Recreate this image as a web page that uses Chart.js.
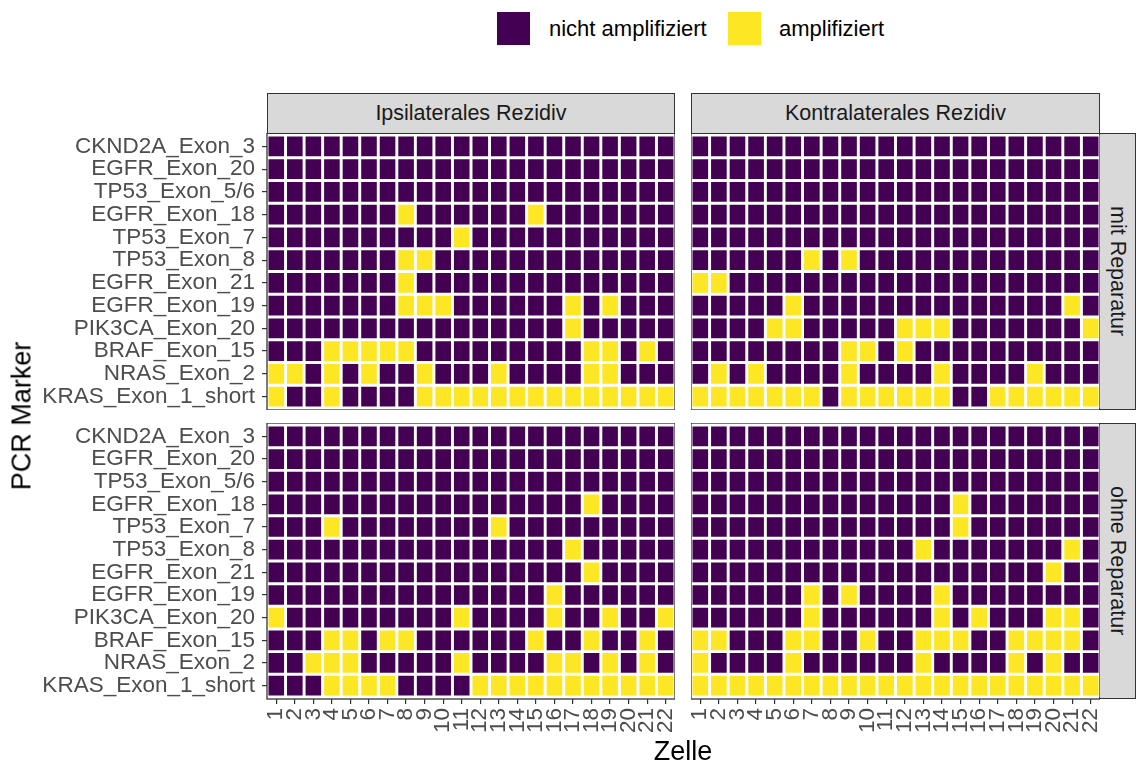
<!DOCTYPE html>
<html>
<head>
<meta charset="utf-8">
<script src="https://cdn.jsdelivr.net/npm/chart.js@4.4.1/dist/chart.umd.min.js"></script>
<style>
  body { margin: 0; width: 1137px; height: 767px; background: #fff; position: relative; overflow: hidden;
         font-family: "Liberation Sans", Arial, sans-serif; }
  .box { position: absolute; }
  .strip { position: absolute; background: #d9d9d9; border: 1.3px solid #333; box-sizing: border-box;
           color: #1a1a1a; font-size: 21.5px; display: flex; align-items: center; justify-content: center; }
  .vert { writing-mode: vertical-rl; }
  .key { position: absolute; width: 33px; height: 33px; }
  .ltext { position: absolute; font-size: 22px; color: #000; line-height: 33px; white-space: nowrap; }
  .title { position: absolute; font-size: 27px; color: #000; white-space: nowrap; }
</style>
</head>
<body>

<div class="key" style="left:497px;top:12px;background:#440154"></div>
<div class="ltext" style="left:549px;top:12px">nicht amplifiziert</div>
<div class="key" style="left:728px;top:12px;background:#fde725"></div>
<div class="ltext" style="left:779px;top:12px">amplifiziert</div>

<div class="strip" style="left:267px;top:93px;width:408px;height:41px">Ipsilaterales Rezidiv</div>
<div class="strip" style="left:691px;top:93px;width:409px;height:41px">Kontralaterales Rezidiv</div>
<div class="strip vert" style="left:1099px;top:133px;width:37px;height:277px">mit Reparatur</div>
<div class="strip vert" style="left:1099px;top:423px;width:37px;height:276px">ohne Reparatur</div>

<div class="box" style="left:0;top:133px;width:675px;height:277px"><canvas id="tl"></canvas></div>
<div class="box" style="left:691px;top:133px;width:409px;height:277px"><canvas id="tr"></canvas></div>
<div class="box" style="left:0;top:423px;width:675px;height:338px"><canvas id="bl"></canvas></div>
<div class="box" style="left:691px;top:423px;width:409px;height:338px"><canvas id="br"></canvas></div>

<div class="title" style="left:683px;top:736px;transform:translateX(-50%)">Zelle</div>
<div class="title" style="left:22px;top:416px;transform:translate(-50%,-50%) rotate(-90deg)">PCR Marker</div>

<script>
const purple = "#440154";
const yellow = "#fde725";

const rows = ["CKND2A_Exon_3", "EGFR_Exon_20", "TP53_Exon_5/6", "EGFR_Exon_18", "TP53_Exon_7", "TP53_Exon_8",
  "EGFR_Exon_21", "EGFR_Exon_19", "PIK3CA_Exon_20", "BRAF_Exon_15", "NRAS_Exon_2", "KRAS_Exon_1_short"];

const cells = ["1","2","3","4","5","6","7","8","9","10","11","12","13","14","15","16","17","18","19","20","21","22"];

// 1 = amplifiziert, 0 = nicht amplifiziert (rows in the order above)
const ipsiMit = [
  [0,0,0,0,0,0,0,0,0,0,0,0,0,0,0,0,0,0,0,0,0,0],
  [0,0,0,0,0,0,0,0,0,0,0,0,0,0,0,0,0,0,0,0,0,0],
  [0,0,0,0,0,0,0,0,0,0,0,0,0,0,0,0,0,0,0,0,0,0],
  [0,0,0,0,0,0,0,1,0,0,0,0,0,0,1,0,0,0,0,0,0,0],
  [0,0,0,0,0,0,0,0,0,0,1,0,0,0,0,0,0,0,0,0,0,0],
  [0,0,0,0,0,0,0,1,1,0,0,0,0,0,0,0,0,0,0,0,0,0],
  [0,0,0,0,0,0,0,1,0,0,0,0,0,0,0,0,0,0,0,0,0,0],
  [0,0,0,0,0,0,0,1,1,1,0,0,0,0,0,0,1,0,1,0,0,0],
  [0,0,0,0,0,0,0,0,0,0,0,0,0,0,0,0,1,0,0,0,0,0],
  [0,0,0,1,1,1,1,1,0,0,0,0,0,0,0,0,0,1,1,0,1,0],
  [1,1,0,1,0,1,0,0,1,0,0,0,1,0,0,0,0,1,1,0,0,0],
  [1,0,0,1,0,0,0,0,1,1,1,1,1,1,1,1,1,1,1,1,1,1]
];

const kontraMit = [
  [0,0,0,0,0,0,0,0,0,0,0,0,0,0,0,0,0,0,0,0,0,0],
  [0,0,0,0,0,0,0,0,0,0,0,0,0,0,0,0,0,0,0,0,0,0],
  [0,0,0,0,0,0,0,0,0,0,0,0,0,0,0,0,0,0,0,0,0,0],
  [0,0,0,0,0,0,0,0,0,0,0,0,0,0,0,0,0,0,0,0,0,0],
  [0,0,0,0,0,0,0,0,0,0,0,0,0,0,0,0,0,0,0,0,0,0],
  [0,0,0,0,0,0,1,0,1,0,0,0,0,0,0,0,0,0,0,0,0,0],
  [1,1,0,0,0,0,0,0,0,0,0,0,0,0,0,0,0,0,0,0,0,0],
  [0,0,0,0,0,1,0,0,0,0,0,0,0,0,0,0,0,0,0,0,1,0],
  [0,0,0,0,1,1,0,0,0,0,0,1,1,1,0,0,0,0,0,0,0,1],
  [0,0,0,0,0,0,0,0,1,1,0,1,0,0,0,0,0,0,0,0,0,0],
  [0,1,0,1,0,0,0,0,1,0,0,0,0,1,0,0,0,0,1,0,0,0],
  [1,1,1,1,1,1,1,0,1,1,1,1,1,1,0,0,1,1,1,1,1,1]
];

const ipsiOhne = [
  [0,0,0,0,0,0,0,0,0,0,0,0,0,0,0,0,0,0,0,0,0,0],
  [0,0,0,0,0,0,0,0,0,0,0,0,0,0,0,0,0,0,0,0,0,0],
  [0,0,0,0,0,0,0,0,0,0,0,0,0,0,0,0,0,0,0,0,0,0],
  [0,0,0,0,0,0,0,0,0,0,0,0,0,0,0,0,0,1,0,0,0,0],
  [0,0,0,1,0,0,0,0,0,0,0,0,1,0,0,0,0,0,0,0,0,0],
  [0,0,0,0,0,0,0,0,0,0,0,0,0,0,0,0,1,0,0,0,0,0],
  [0,0,0,0,0,0,0,0,0,0,0,0,0,0,0,0,0,1,0,0,0,0],
  [0,0,0,0,0,0,0,0,0,0,0,0,0,0,0,1,0,0,0,0,0,0],
  [1,0,0,0,0,0,0,0,0,0,1,0,0,0,0,1,0,0,1,0,0,1],
  [0,0,0,1,1,0,1,1,0,0,0,0,0,0,1,0,0,1,0,0,1,0],
  [0,0,1,1,1,0,0,0,0,0,1,0,0,0,0,1,1,0,1,0,1,0],
  [0,0,0,1,1,1,1,0,0,0,0,1,1,1,1,1,1,1,1,1,1,1]
];

const kontraOhne = [
  [0,0,0,0,0,0,0,0,0,0,0,0,0,0,0,0,0,0,0,0,0,0],
  [0,0,0,0,0,0,0,0,0,0,0,0,0,0,0,0,0,0,0,0,0,0],
  [0,0,0,0,0,0,0,0,0,0,0,0,0,0,0,0,0,0,0,0,0,0],
  [0,0,0,0,0,0,0,0,0,0,0,0,0,0,1,0,0,0,0,0,0,0],
  [0,0,0,0,0,0,0,0,0,0,0,0,0,0,1,0,0,0,0,0,0,0],
  [0,0,0,0,0,0,0,0,0,0,0,0,1,0,0,0,0,0,0,0,1,0],
  [0,0,0,0,0,0,0,0,0,0,0,0,0,0,0,0,0,0,0,1,0,0],
  [0,0,0,0,0,0,1,0,1,0,0,0,0,1,0,0,0,0,0,0,0,0],
  [0,0,0,0,0,0,1,0,0,0,0,0,0,1,0,1,0,0,0,1,1,0],
  [1,1,0,0,0,1,1,0,0,1,0,0,1,1,1,0,0,1,1,1,1,0],
  [1,0,0,0,0,1,0,0,0,0,0,0,1,0,0,0,0,1,0,1,0,0],
  [1,1,1,1,1,1,1,1,1,1,1,1,1,1,1,1,1,1,1,1,1,1]
];

const tickFont = { family: "'Liberation Sans', Arial, sans-serif", size: 22.5 };

// draws the dark frame round each panel
const panelBorder = {
  id: "panelBorder",
  afterDraw(chart) {
    const { ctx, chartArea: a } = chart;
    ctx.save();
    ctx.strokeStyle = "#333333";
    ctx.lineWidth = 1.3;
    ctx.strokeRect(a.left, a.top, a.right - a.left, a.bottom - a.top);
    ctx.restore();
  }
};

function makePanel(id, grid, showY, showX) {
  const datasets = rows.map((name, i) => ({
    label: name,
    data: cells.map(() => [i - 0.5, i + 0.5]),
    backgroundColor: grid[i].map(v => v ? yellow : purple),
    borderColor: "#ffffff",
    borderWidth: 1.8,
    borderSkipped: false,
    grouped: false,
    barPercentage: 1,
    categoryPercentage: 1
  }));

  new Chart(document.getElementById(id), {
    type: "bar",
    data: { labels: cells, datasets: datasets },
    options: {
      responsive: true,
      maintainAspectRatio: false,
      animation: false,
      layout: { padding: 0 },
      plugins: { legend: { display: false }, tooltip: { enabled: false } },
      scales: {
        x: {
          display: showX,
          grid: { offset: false, drawOnChartArea: false, drawTicks: true, tickLength: 5, color: "#333333", lineWidth: 1.2 },
          border: { display: false },
          ticks: { minRotation: 90, maxRotation: 90, autoSkip: false, padding: 4, color: "#4d4d4d", font: tickFont },
          afterFit(s) { s.height = showX ? 62 : 0; s.paddingLeft = 0; s.paddingRight = 0; }
        },
        y: {
          type: "linear",
          display: showY,
          reverse: true,
          min: -0.59,
          max: 11.59,
          grid: { drawOnChartArea: false, drawTicks: true, tickLength: 5, color: "#333333", lineWidth: 1.2 },
          border: { display: false },
          afterBuildTicks(s) { s.ticks = rows.map((r, i) => ({ value: i })); },
          ticks: { autoSkip: false, padding: 7, color: "#4d4d4d", font: tickFont, callback: v => rows[v] },
          afterFit(s) { s.width = showY ? 267 : 0; s.paddingTop = 0; s.paddingBottom = 0; }
        }
      }
    },
    plugins: [panelBorder]
  });
}

makePanel("tl", ipsiMit, true, false);
makePanel("tr", kontraMit, false, false);
makePanel("bl", ipsiOhne, true, true);
makePanel("br", kontraOhne, false, true);
</script>
</body>
</html>
